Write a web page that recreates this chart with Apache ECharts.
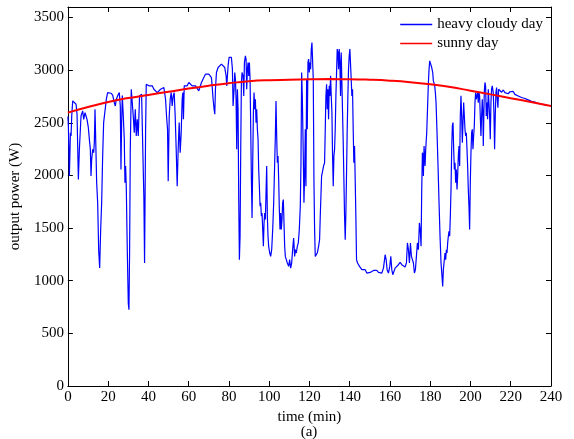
<!DOCTYPE html>
<html><head><meta charset="utf-8">
<script src="https://cdn.jsdelivr.net/npm/echarts@6/dist/echarts.min.js"></script>
<style>html,body{margin:0;padding:0;background:#fff}#c{width:574px;height:439px}</style>
</head><body><div id="c"></div>
<script>
const cloudyTime = [0,0.24,0.74,1.24,1.57,1.9,2.39,3.22,4.05,4.54,5.2,5.7,6.52,7.35,7.85,8.51,9.0,9.5,10.16,10.66,11.15,11.48,11.81,12.31,12.8,13.13,13.47,13.96,14.29,14.79,15.28,15.78,16.28,16.77,17.27,17.76,18.43,19.09,19.75,20.57,21.4,22.23,22.72,23.05,23.55,24.05,24.71,25.53,26.03,26.36,26.7,27.02,27.52,28.01,28.34,28.67,29.0,29.5,30.0,30.33,30.66,30.99,31.48,31.98,32.47,32.97,33.47,33.96,34.46,34.95,35.61,36.11,36.61,37.27,37.76,38.09,38.59,38.92,39.42,40.24,41.07,41.9,42.72,43.55,44.38,45.2,46.03,46.85,47.68,48.51,49.0,49.5,49.83,50.33,50.82,51.32,51.81,52.31,52.8,53.3,53.8,54.29,54.79,55.28,55.78,56.28,56.77,57.1,57.4,57.8,58.42,59.25,60.08,60.9,61.73,62.56,63.38,64.21,65.03,65.86,66.36,67.02,67.51,68.34,69.17,69.99,70.82,71.31,71.65,72.14,72.64,72.97,73.3,73.8,74.62,75.45,76.27,77.1,77.93,78.59,78.92,79.25,79.58,80.08,80.74,81.23,81.73,82.06,82.56,82.89,83.22,83.55,83.88,84.21,84.54,84.87,85.2,85.53,85.86,86.19,86.52,87.02,87.36,87.69,88.18,88.51,88.84,89.17,89.51,89.84,90.17,90.5,90.83,91.16,91.49,91.82,92.15,92.48,92.81,93.14,93.47,93.8,94.13,94.46,94.79,95.12,95.46,95.79,96.12,96.45,96.78,97.11,97.44,97.77,98.1,98.43,98.76,99.09,99.42,99.75,100.25,100.74,101.24,101.74,102.23,102.73,103.06,103.39,103.72,104.05,104.38,104.71,105.04,105.37,105.7,106.03,106.36,106.69,107.02,107.36,107.69,108.02,108.51,109.01,109.67,110.17,110.66,111.16,111.65,112.15,112.65,112.98,113.47,113.97,114.46,114.96,115.45,115.79,116.12,116.45,116.94,117.27,117.6,117.93,118.26,118.59,118.92,119.26,119.59,119.92,120.25,120.58,120.91,121.24,121.57,121.9,122.23,122.56,122.89,123.39,123.88,124.54,125.04,125.37,125.7,126.03,126.53,127.02,127.52,127.85,128.18,128.51,128.84,129.17,129.5,129.83,130.16,130.5,130.83,131.16,131.49,131.82,132.15,132.48,132.81,133.14,133.47,133.8,134.13,134.46,134.79,135.12,135.45,135.78,136.11,136.45,136.78,137.11,137.44,137.77,138.1,138.43,138.76,139.09,139.42,139.75,140.08,140.41,140.74,141.07,141.4,141.73,142.06,142.4,142.73,143.06,143.39,143.88,144.38,144.87,145.37,146.03,146.86,147.68,148.51,149.34,150.16,150.99,151.82,152.64,153.47,154.29,155.12,155.95,156.77,157.6,158.1,158.59,159.25,159.91,160.41,160.91,161.4,161.9,162.56,163.39,164.21,165.04,165.86,166.69,167.52,168.18,168.67,169.17,169.67,170.16,170.66,171.15,171.65,172.15,172.64,173.14,173.63,174.13,174.63,175.12,175.45,175.78,176.11,176.44,176.61,176.94,177.43,177.76,178.26,178.76,179.09,179.42,179.75,180.24,180.74,181.23,181.56,181.9,182.23,182.56,182.89,183.38,183.88,184.38,184.87,185.37,185.86,186.19,186.52,186.85,187.35,187.68,188.01,188.34,188.67,189.0,189.33,189.66,189.99,190.33,190.66,190.99,191.32,191.65,191.98,192.31,192.64,192.97,193.3,193.63,193.96,194.29,194.62,194.95,195.28,195.61,195.95,196.28,196.61,196.94,197.27,197.6,197.93,198.26,198.59,198.92,199.25,199.58,199.91,200.24,200.57,200.9,201.23,201.56,201.9,202.23,202.56,202.89,203.22,203.55,203.88,204.21,204.54,204.87,205.2,205.53,205.86,206.19,206.36,206.85,207.18,207.51,207.84,208.17,208.5,208.84,209.17,209.5,209.83,210.16,210.49,210.82,211.31,211.65,211.98,212.31,212.64,212.97,213.3,213.63,213.96,214.62,215.45,216.27,217.1,217.93,218.75,219.58,220.41,221.23,222.06,222.9,223.71,224.5,225.36,226.2,227.02,227.8,228.67,229.5,230.32,231.1,231.98,232.8,233.63,234.5,235.28,236.1,236.93,237.8,238.59,239.75];
const cloudyPower = [2560,2470,1994,2406,2375,2565,2708,2724,2676,2581,1962,2248,2565,2613,2533,2597,2565,2533,2454,2343,2248,1994,2152,2248,2216,2311,2629,2216,1930,1740,1295,1120,1486,1740,2184,2502,2613,2724,2787,2771,2781,2762,2756,2692,2660,2724,2756,2787,2660,2057,2500,2760,2565,2343,1930,2089,1898,1295,787,724,1295,2248,2819,2835,2565,2406,2629,2375,2533,2375,2756,2756,2771,2756,1771,1168,2406,2867,2851,2851,2835,2851,2819,2803,2787,2803,2819,2819,2835,2724,2565,2438,1946,2565,2724,2787,2660,2756,2787,2565,2248,1898,2248,2502,2216,2406,2724,2787,2533,2851,2867,2851,2883,2867,2851,2835,2851,2835,2803,2787,2883,2898,2930,2962,2978,2962,2962,2930,2851,2724,2629,2581,2819,2978,3025,3041,3057,3057,3025,2946,2851,2835,3041,3121,3137,3121,3010,2660,2819,2978,2914,2724,2248,2819,2629,1771,1200,1422,2248,2883,2978,2946,2755,3073,3136,3105,2819,3010,3073,2946,3073,2914,2438,1962,1597,2121,2597,2787,2629,2724,2501,2629,2438,2343,2057,1898,1708,1740,1613,1644,1486,1327,1549,1644,1581,1835,2089,1613,1422,1327,1263,1231,1295,1486,1740,2121,2374,2708,2374,2121,2184,1962,1676,1486,1644,1486,1581,1740,1771,1549,1327,1231,1200,1168,1136,1200,1120,1168,1295,1406,1231,1295,1263,1327,1359,1486,1708,2121,2978,2755,2184,1740,1994,2438,1898,2914,2438,3073,3105,2978,3073,3010,3200,3263,3279,2914,1962,1486,1231,1216,1263,1327,1390,1613,1803,1994,1994,2089,2121,2438,2755,2867,2629,2819,2533,2851,2755,2946,2755,2597,2184,1898,2184,2248,2438,2755,2978,3200,3168,3010,3200,3073,2755,3168,2882,2597,2311,1962,1613,1390,1644,2025,2438,2755,3010,3136,3200,3206,2914,2755,2819,2438,2121,2279,1962,1613,1200,1168,1152,1136,1120,1105,1089,1105,1073,1089,1079,1089,1098,1111,1098,1079,1073,1073,1120,1247,1200,1105,1073,1136,1231,1105,1057,1041,1120,1136,1152,1174,1152,1136,1130,1168,1359,1295,1168,1359,1231,1200,1168,1073,1105,1231,1359,1295,1549,1454,1327,1866,2216,2184,1994,2279,2089,2248,2406,2692,2883,3010,3089,3073,3025,2978,2898,2914,2851,2787,2692,2406,2089,1740,1422,1168,1041,946,1105,1168,1263,1200,1295,1263,1359,1422,1470,1422,1613,1867,2248,2470,2502,2248,2057,2121,1930,2057,1867,1994,2184,2279,2089,2565,2756,2565,2311,2502,2692,2565,2438,2375,2406,2248,2089,1867,1708,1486,1930,2216,2406,2438,2248,2375,2470,2692,2787,2724,2756,2787,2692,2787,2756,2565,2375,2565,2724,2565,2279,2787,2883,2851,2565,2692,2533,2819,2692,2565,2343,2692,2819,2851,2787,2597,2248,2565,2787,2835,2724,2644,2819,2809,2790,2812,2787,2801,2776,2795,2785,2798,2770,2778,2755,2765,2740,2752,2731,2744,2718,2728,2705,2716,2697,2705,2684,2696,2678,2688,2671,2667];
const sunnyTime = [0,10,20,30,40,50,60,70,80,90,100,110,120,130,140,150,160,170,180,190,200,210,220,230,240];
const sunnyPower = [2597,2650,2698,2735,2765,2795,2825,2852,2876,2895,2905,2909,2913,2915,2914,2909,2900,2886,2866,2840,2805,2770,2734,2698,2660];
const xTickStep = 20;
const yTickStep = 500;
const seriesNames = ['heavy cloudy day', 'sunny day'];
const seriesColors = ['#0000ff', '#ff0000'];

const font = 'Liberation Serif';
const black = '#000';
const cloudyData = cloudyTime.map((t, i) => [t, cloudyPower[i]]);
const sunnyData = sunnyTime.map((t, i) => [t, sunnyPower[i]]);

const chart = echarts.init(document.getElementById('c'));
const lineSt = { color: black, width: 1 };
const tickSt = { inside: true, length: 5, lineStyle: { color: black, width: 1 } };
const lbl = { fontFamily: font, fontSize: 15, color: black };
const plain = v => String(v);

chart.setOption({
  animation: false,
  backgroundColor: '#fff',
  grid: { left: 67, right: 23, top: 7, bottom: 53 },
  legend: {
    orient: 'vertical', right: 31, top: 17, padding: 0,
    itemWidth: 32, itemHeight: 14, itemGap: 4,
    itemStyle: { opacity: 0 },
    textStyle: { fontFamily: font, fontSize: 15, color: black },
    data: seriesNames.map((n, i) => ({ name: n,
      lineStyle: { color: seriesColors[i], width: 1.5, opacity: 1 } }))
  },
  xAxis: [
    { type: 'value', min: 0, max: 240, interval: xTickStep,
      axisLine: { show: true, onZero: false, lineStyle: lineSt },
      axisTick: tickSt, splitLine: { show: false },
      axisLabel: Object.assign({ margin: 4, formatter: plain }, lbl),
      name: 'time (min)', nameLocation: 'middle', nameGap: 17,
      nameTextStyle: lbl },
    { type: 'value', position: 'top', min: 0, max: 240, interval: xTickStep,
      axisLine: { show: true, onZero: false, lineStyle: lineSt },
      axisTick: tickSt, splitLine: { show: false }, axisLabel: { show: false } }
  ],
  yAxis: [
    { type: 'value', min: 0, max: 3600, interval: yTickStep,
      axisLine: { show: true, onZero: false, lineStyle: lineSt },
      axisTick: tickSt, splitLine: { show: false },
      axisLabel: Object.assign({ margin: 4, showMaxLabel: false, formatter: plain }, lbl),
      name: 'output power (W)', nameLocation: 'middle', nameGap: 38,
      nameTextStyle: lbl },
    { type: 'value', position: 'right', min: 0, max: 3600, interval: yTickStep,
      axisLine: { show: true, onZero: false, lineStyle: lineSt },
      axisTick: tickSt, splitLine: { show: false }, axisLabel: { show: false } }
  ],
  series: [
    { name: seriesNames[0], type: 'line', data: cloudyData, symbol: 'none',
      lineStyle: { color: seriesColors[0], width: 1.2 }, itemStyle: { color: seriesColors[0] } },
    { name: seriesNames[1], type: 'line', data: sunnyData, symbol: 'none', smooth: true,
      lineStyle: { color: seriesColors[1], width: 2 }, itemStyle: { color: seriesColors[1] } }
  ],
  graphic: [
    { type: 'text', x: 309, y: 432,
      style: { text: '(a)', font: '15px "Liberation Serif"', fill: black,
               textAlign: 'center', textVerticalAlign: 'middle', verticalAlign: 'middle' } }
  ]
});
</script>
</body></html>
